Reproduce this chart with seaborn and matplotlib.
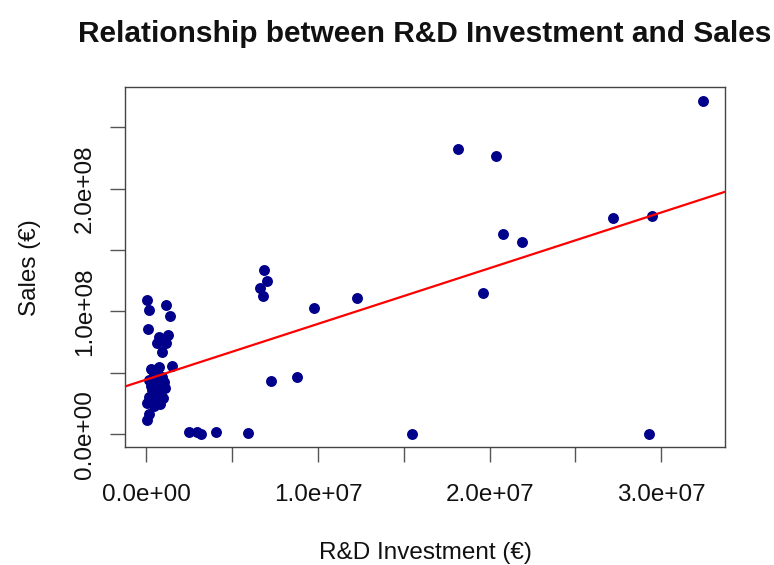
import numpy as np
import pandas as pd
import seaborn as sns
from matplotlib import pyplot as plt
from matplotlib.ticker import MultipleLocator, FuncFormatter

# R&D investment and sales, in millions of euro
rd_millions = [
    0.05, 0.17, 1.17, 1.40, 0.12, 0.76, 1.28, 0.64, 1.17, 0.93,
    1.52, 0.29, 0.76, 0.47, 0.93, 0.17, 0.64, 1.05, 0.35, 0.76,
    1.11, 0.17, 0.64, 0.99, 0.06, 0.47, 0.82, 0.17, 0.06, 0.58,
    0.87, 0.29, 0.64,
    2.51, 2.97, 3.21, 4.08, 5.95, 15.45, 29.27,
    6.88, 7.00, 6.65, 6.82, 9.74, 7.29, 8.75, 12.30,
    18.13, 20.35, 20.76, 21.87, 19.59, 27.17, 29.45, 32.42,
]
sales_millions = [
    109.3, 101.3, 105.2, 96.2, 85.6, 79.1, 80.8, 74.2, 74.2, 66.9,
    55.5, 53.0, 54.6, 48.1, 46.5, 44.0, 41.6, 42.4, 35.9, 34.3,
    37.5, 30.2, 27.7, 29.4, 25.3, 22.8, 24.5, 16.3, 11.4, 31.8,
    40.0, 39.2, 50.6,
    1.6, 1.6, 0.0, 1.6, 0.8, 0.0, 0.0,
    133.8, 124.8, 119.1, 112.6, 102.8, 43.2, 46.5, 110.9,
    232.5, 226.8, 163.1, 156.6, 115.0, 176.2, 177.8, 271.6,
]

title = "Relationship between R&D Investment and Sales"
x_label = "R&D Investment (€)"
y_label = "Sales (€)"

df = pd.DataFrame({
    "rd": np.array(rd_millions) * 1e6,
    "sales": np.array(sales_millions) * 1e6,
})

sns.set_style("ticks")
plt.rcParams["font.family"] = ["Liberation Sans", "DejaVu Sans"]

fig = plt.figure(figsize=(7.74, 5.65), dpi=100)
ax = fig.add_axes([0.1615, 0.208, 0.7752, 0.6372])


# R style 4% padding around the data
def padded(values):
    lo, hi = values.min(), values.max()
    pad = (hi - lo) * 0.04
    return lo - pad, hi + pad


ax.set_xlim(padded(df["rd"]))
ax.set_ylim(padded(df["sales"]))

sns.regplot(data=df, x="rd", y="sales", ax=ax, ci=None, truncate=False,
            scatter_kws={"color": "#00008B", "s": 62, "alpha": 1, "linewidths": 0},
            line_kws={"color": "red", "linewidth": 1.6})

ax.set_xlim(padded(df["rd"]))
ax.set_ylim(padded(df["sales"]))


def sci_label(step):
    def fmt(v, pos):
        if abs(v / step - round(v / step)) > 1e-6:
            return ""
        return f"{v:.1e}"
    return fmt


ax.xaxis.set_major_locator(MultipleLocator(5e6))
ax.xaxis.set_major_formatter(FuncFormatter(sci_label(1e7)))
ax.yaxis.set_major_locator(MultipleLocator(5e7))
ax.yaxis.set_major_formatter(FuncFormatter(sci_label(1e8)))

ax.tick_params(axis="both", length=11, width=1, color="#555555",
               labelsize=17.5, labelcolor="#111111")
ax.tick_params(axis="x", pad=15)
ax.tick_params(axis="y", pad=10)
for lbl in ax.get_yticklabels():
    lbl.set_rotation(90)
    lbl.set_va("center")

for sp in ax.spines.values():
    sp.set_visible(True)
    sp.set_color("#444444")
    sp.set_linewidth(1)

ax.set_xlabel(x_label, fontsize=17.5, labelpad=26, color="#111111")
ax.set_ylabel(y_label, fontsize=17.5, labelpad=24, color="#111111")
ax.set_title(title, fontsize=21.5, fontweight="bold", pad=33, color="#111111")

plt.savefig("out.png", dpi=100)
